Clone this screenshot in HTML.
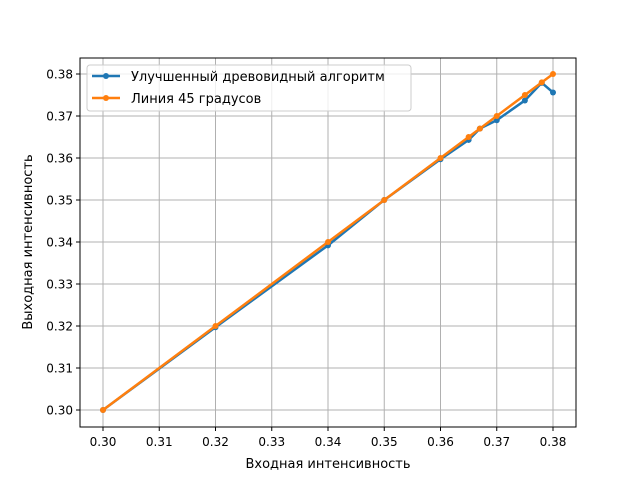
<!DOCTYPE html>
<html><head><meta charset="utf-8"><style>
body{margin:0;background:#fff;font-family:"Liberation Sans","DejaVu Sans",sans-serif;}
svg text{font-family:"DejaVu Sans","Liberation Sans",sans-serif;}
</style></head><body>
<svg id="chart" width="640" height="480" xmlns="http://www.w3.org/2000/svg">
<rect width="640" height="480" fill="#fff"/>
<g id="grid"></g><g id="ticks"></g><g id="series"></g>
<rect x="80" y="58" width="496" height="369" fill="none" stroke="#000" stroke-width="1"/>
<text x="328" y="468" text-anchor="middle" font-size="13">Входная интенсивность</text>
<text transform="translate(32,242) rotate(-90)" text-anchor="middle" font-size="13">Выходная интенсивность</text>
<g>
<rect x="87" y="65" width="324" height="46" rx="3" fill="#fff" fill-opacity="0.8" stroke="#ccc"/>
<g><line x1="92" y1="76" x2="120" y2="76" stroke="#1f77b4" stroke-width="2.5"/><circle cx="106" cy="76" r="3" fill="#1f77b4"/><text x="131" y="81" font-size="13">Улучшенный древовидный алгоритм</text></g>
<g><line x1="92" y1="98" x2="120" y2="98" stroke="#ff7f0e" stroke-width="2.5"/><circle cx="106" cy="98" r="3" fill="#ff7f0e"/><text x="131" y="103" font-size="13">Линия 45 градусов</text></g>
</g>
</svg>
<script>
const xValues=[0.30,0.32,0.34,0.35,0.36,0.365,0.367,0.37,0.375,0.378,0.38];
const improvedValues=[0.30,0.3197,0.3392,0.35,0.3597,0.3643,0.367,0.369,0.3737,0.3779,0.3756];
const lineValues=[0.30,0.32,0.34,0.35,0.36,0.365,0.367,0.37,0.375,0.378,0.38];
const xTicks=[0.30,0.31,0.32,0.33,0.34,0.35,0.36,0.37,0.38];
const yTicks=[0.30,0.31,0.32,0.33,0.34,0.35,0.36,0.37,0.38];
const NS="http://www.w3.org/2000/svg";
const X=v=>103+(v-0.30)*5625;
const Y=v=>410-(v-0.30)*4200;
function mk(t,a,p){const e=document.createElementNS(NS,t);for(const k in a)e.setAttribute(k,a[k]);p.appendChild(e);return e;}
const grid=document.getElementById('grid'),ticks=document.getElementById('ticks'),ser=document.getElementById('series');
xTicks.forEach(v=>{const x=X(v);
const g=mk('line',{x1:x,x2:x,y1:58,y2:427,stroke:'#b0b0b0','stroke-width':1},grid);


mk('line',{x1:x,x2:x,y1:427,y2:431,stroke:'#000'},ticks);
const t=mk('text',{x:x,y:446,'text-anchor':'middle','font-size':12},ticks);t.textContent=v.toFixed(2);

});
yTicks.forEach(v=>{const y=Y(v);
const g=mk('line',{x1:80,x2:576,y1:y,y2:y,stroke:'#b0b0b0','stroke-width':1},grid);


mk('line',{x1:76,x2:80,y1:y,y2:y,stroke:'#000'},ticks);
const t=mk('text',{x:73,y:y+4.5,'text-anchor':'end','font-size':12},ticks);t.textContent=v.toFixed(2);

});
function draw(vals,color,name){
const pl=mk('polyline',{points:xValues.map((x,i)=>X(x)+','+Y(vals[i])).join(' '),fill:'none',stroke:color,'stroke-width':2.5,'stroke-linejoin':'round'},ser);


xValues.forEach((x,i)=>{const c=mk('circle',{cx:X(x),cy:Y(vals[i]),r:3,fill:color},ser);

});}
draw(improvedValues,'#1f77b4','improved-algorithm');
draw(lineValues,'#ff7f0e','line-45');
</script>
</body></html>
